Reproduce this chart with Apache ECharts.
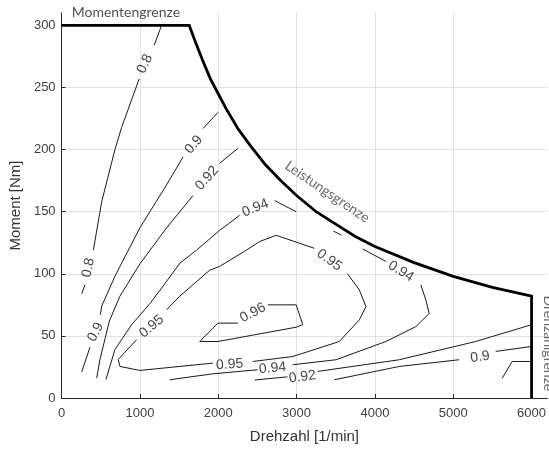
<!DOCTYPE html>
<html><head><meta charset="utf-8">
<script src="https://cdn.jsdelivr.net/npm/echarts@6/dist/echarts.min.js"></script>
<style>html,body{margin:0;padding:0;background:#fff}#c{width:549px;height:453px}</style>
</head><body><div id="c"></div>
<script>
// ---- data ----
const xTicks = [0, 1000, 2000, 3000, 4000, 5000, 6000];
const yTicks = [0, 50, 100, 150, 200, 250, 300];

// operating limit: torque limit, power limit, speed limit
const limitCurve = [[0,300],[1630,300],[1700,288],[1800,272],[1900,257],[2000,245],[2100,233],[2250,217],
  [2400,204],[2600,188],[2800,175],[3000,163],[3250,150],[3500,140],[3750,130],[4000,122],[4500,109],
  [5000,98],[5500,89],[6000,82],[6000,0]];

// efficiency contours (null = break in line)
const c080 = [[1276,300],[1182,284],null,[991,257],[767,218],[681,200],[512,158],[405,119],null,[299,91],[257,84],
  null,[5626,16],[5753,29.4],[6000,29.4]];
const c090 = [[1997,230],[1806,217],null,[1551,194],[1296,167],[1127,150],[1000,137],[745,106],[681,98],[512,74],[495,67],
  null,[363,41],[257,21],
  null,[3483,14.7],[4311,25.4],[5075,30.8],null,[5542,37.5],[6000,41.5]];
const c092 = [[2251,201],[2018,189],null,[1678,163],[1340,137],[1000,108],[745,82],[610,62],[490,31],[448,16],
  null,[2464,14.5],[2884,17],null,[3270,21.4],[4311,30.8],[5287,45.5],[6000,59]];
const c094 = [[2995,150],[2719,159],null,[2273,147],[2018,135],[1722,119],[1509,108.5],[1318,92],[1127,76],[894,59],[681,39],[567,15],
  null,[3470,134.4],[3572,131.2],
  null,[3843,120],[4141,110],
  null,[4587,91],[4650,79],[4693,68],[4523,57.5],[4141,45.5],[3504,30.8],[2952,26.8],
  null,[2502,22.7],[1933,19.5],[1382,14.7]];
const c095 = [[1000,22.2],[1933,28.1],null,[2442,29.4],[2952,33.4],[3546,45.5],[3801,62.9],[3886,73.6],[3801,87],[3650,100],
  null,[3228,120.5],[2740,131],[2528,126],[2358,119],[2018,106],[1892,103],[1509,82],[1340,71],
  null,[958,47],[723,31],[745,25.4],[1000,22.2]];
const c096 = [[2633,75],[2995,75],[3079,59],[2995,57],[1997,45.5],[1764,45.5],[1997,60.3],[2251,60.3]];

const contourLabels = [
  [1063,269,'0.8'],[342,105,'0.8'],
  [1687,204,'0.9'],[435,53,'0.9'],[5342,33,'0.9'],
  [1855,177,'0.92'],[3075,17,'0.92'],
  [2474,153,'0.94'],[4332,102,'0.94'],[2693,24,'0.94'],
  [3419,111,'0.95'],[1149,57.5,'0.95'],[2145,27,'0.95'],
  [2442,68.6,'0.96']
];
const contourLabelAngles = [65,78, 50,62,8, 48,8, 22,-32,5, -36,40,4, 28];

const annotations = [[821,310.5,'Momentengrenze'],[3392,166,'Leistungsgrenze'],[6212,44,'Drehzahlgrenze']];
const annotationAngles = [0,-34,-90];

// ---- chart ----
const toData = arr => arr.map(p => p === null ? ['-','-'] : p);
const contours = [c080, c090, c092, c094, c095, c096];
const font = 'Liberation Sans, Arial, sans-serif';

const series = contours.map(c => ({
  type: 'line', data: toData(c), symbol: 'none', connectNulls: false, silent: true,
  lineStyle: {color: '#1a1a1a', width: 1}, z: 3, animation: false
}));
series.push({
  type: 'line', data: limitCurve, symbol: 'none', silent: true, clip: false,
  lineStyle: {color: '#000', width: 2.8, join: 'miter'}, z: 5, animation: false
});
series.push({
  type: 'scatter', symbolSize: 1, itemStyle: {color: 'rgba(0,0,0,0)'}, silent: true, z: 6, animation: false,
  data: contourLabels.map((d, i) => ({value: [d[0], d[1]], name: d[2], label: {rotate: contourLabelAngles[i]}})),
  label: {show: true, position: 'inside', formatter: '{b}', color: '#111', fontSize: 14, fontFamily: font,
    align: 'center', verticalAlign: 'middle'}
});
series.push({
  type: 'scatter', symbolSize: 1, itemStyle: {color: 'rgba(0,0,0,0)'}, silent: true, z: 6, clip: false, animation: false,
  data: annotations.map((d, i) => ({value: [d[0], d[1]], name: d[2],
    label: {rotate: annotationAngles[i], color: i === 0 ? '#222' : '#444'}})),
  label: {show: true, position: 'inside', formatter: '{b}', fontSize: 14, fontFamily: 'Lato, sans-serif',
    align: 'center', verticalAlign: 'middle'}
});

const chart = echarts.init(document.getElementById('c'), null, {renderer: 'canvas'});
chart.setOption({
  animation: false,
  backgroundColor: '#fff',
  grid: {left: 61, top: 13, width: 487, height: 385, containLabel: false},
  xAxis: {
    type: 'value', min: 0, max: 6200, interval: 1000,
    name: 'Drehzahl [1/min]', nameLocation: 'middle', nameGap: 31,
    nameTextStyle: {fontSize: 15, color: '#333', fontFamily: font},
    axisLine: {show: true, lineStyle: {color: '#262626', width: 1}},
    axisTick: {show: true, inside: true, length: 4, lineStyle: {color: '#262626'}, customValues: xTicks},
    axisLabel: {fontSize: 13, color: '#404040', fontFamily: font, margin: 9, customValues: xTicks,
      formatter: v => String(v)},
    splitLine: {show: true, showMaxLine: false, lineStyle: {color: '#e2e2e2', width: 1}}
  },
  yAxis: {
    type: 'value', min: 0, max: 310, interval: 50,
    name: 'Moment [Nm]', nameLocation: 'middle', nameGap: 33,
    nameTextStyle: {fontSize: 15, color: '#333', fontFamily: font},
    axisLine: {show: true, lineStyle: {color: '#262626', width: 1}},
    axisTick: {show: true, inside: true, length: 4, lineStyle: {color: '#262626'}, customValues: yTicks},
    axisLabel: {fontSize: 13, color: '#404040', fontFamily: font, margin: 6, customValues: yTicks,
      formatter: v => String(v)},
    splitLine: {show: true, showMaxLine: false, lineStyle: {color: '#e2e2e2', width: 1}}
  },
  series: series
});
</script></body></html>
